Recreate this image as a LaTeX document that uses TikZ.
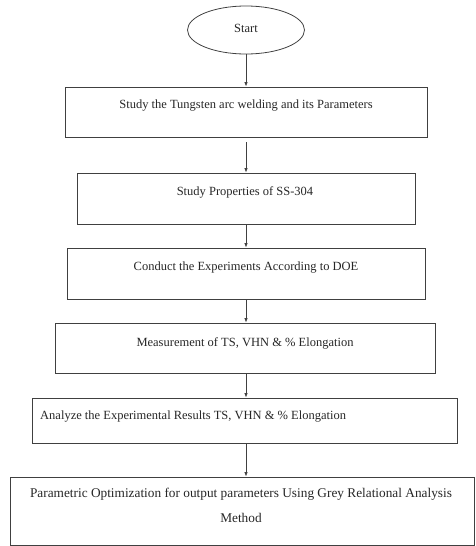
\documentclass[tikz,border=0pt]{standalone}
\usepackage{fontspec}
\setmainfont{Liberation Serif}
\usetikzlibrary{shapes.geometric,arrows.meta}
\begin{document}
\begin{tikzpicture}[x=1pt,y=-1pt,
  line/.style={draw=black!75,line width=0.8pt},
  stepbox/.style={line,rectangle,inner sep=0pt},
  txt/.style={inner sep=0pt,font=\fontsize{12.5}{15}\selectfont,text=black!85},
  arr/.style={line,-{Latex[length=4.5pt,width=3.5pt]}}]
\useasboundingbox (0,0) rectangle (475,546);
\node[line,ellipse,minimum width=117pt,minimum height=48pt,inner sep=0pt] (start) at (246,30) {};
\node[txt] at (246,28) {Start};
\node[stepbox,minimum width=362pt,minimum height=50pt] (b1) at (246,112) {};
\node[txt] at (246,106) {Study the Tungsten arc welding and its Parameters};
\node[stepbox,minimum width=338pt,minimum height=51pt] (b2) at (246,198.5) {};
\node[txt] at (245,192) {Study Properties of SS-304};
\node[stepbox,minimum width=358pt,minimum height=51pt] (b3) at (246,273.5) {};
\node[txt] at (246,268) {Conduct the Experiments According to DOE};
\node[stepbox,minimum width=380pt,minimum height=50pt] (b4) at (245,348) {};
\node[txt] at (245,343) {Measurement of TS, VHN \& \% Elongation};
\node[stepbox,minimum width=425pt,minimum height=45pt] (b5) at (244.5,420.5) {};
\node[txt,anchor=west] at (40,417) {Analyze the Experimental Results TS, VHN \& \% Elongation};
\node[stepbox,minimum width=464pt,minimum height=68pt] (b6) at (242.5,511) {};
\node[txt,align=center,font=\fontsize{13.3}{25}\selectfont] at (241,505.5) {Parametric Optimization for output parameters Using Grey Relational Analysis\\Method};
\draw[arr] (start.south) -- (start.south |- b1.north);
\draw[arr,shorten <=5pt] (b1.south -| start.south) -- (b2.north -| start.south);
\draw[arr] (b2.south -| start.south) -- (b3.north -| start.south);
\draw[arr] (b3.south -| start.south) -- (b4.north -| start.south);
\draw[arr] (b4.south -| start.south) -- (b5.north -| start.south);
\draw[arr] (b5.south -| start.south) -- (b6.north -| start.south);
\end{tikzpicture}
\end{document}
